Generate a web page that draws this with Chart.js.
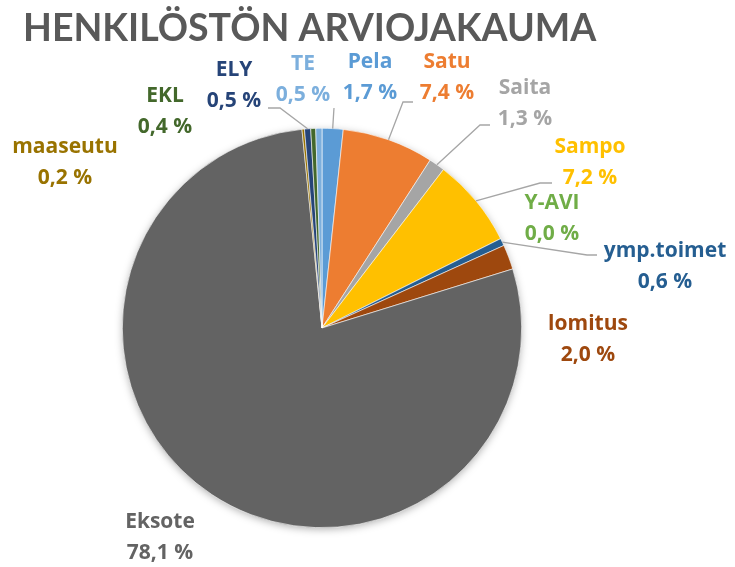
<!DOCTYPE html>
<html lang="fi">
<head>
  <meta charset="UTF-8">
  <title>Henkilöstön arviojakauma</title>
  <script src="https://cdn.jsdelivr.net/npm/chart.js"></script>
  <style>
    body { margin: 0; background: #fff; }
    #wrap { width: 735px; height: 567px; position: relative; }
  </style>
</head>
<body>
  <div id="wrap"><canvas id="pie"></canvas></div>

  <script>
    // data (clockwise from 12 o'clock, as in the original)
    const categories = ['Pela', 'Satu', 'Saita', 'Sampo', 'Y-AVI', 'ymp.toimet', 'lomitus', 'Eksote', 'maaseutu', 'ELY', 'EKL', 'TE'];
    const shares = [1.7, 7.4, 1.3, 7.2, 0.0, 0.6, 2.0, 78.1, 0.2, 0.5, 0.4, 0.5];
    const sliceColors = ['#5B9BD5', '#ED7D31', '#A5A5A5', '#FFC000', '#70AD47', '#255E91', '#9E480E', '#636363', '#997300', '#264478', '#43682B', '#7CAFDD'];
    const chartTitle = 'HENKILÖSTÖN ARVIOJAKAUMA';

    // label placement, offsets from pie centre (px)
    const labelOffsets = [[48,-251],[125,-251],[203,-225],[268,-166],[230,-110],[343,-62],[266,11],[-162,209],[-257,-166],[-88,-243],[-157,-217],[-19,-249]];
    // leader lines: [elbow, end] offsets from pie centre, null = no leader
    const leaders = [
      [[12,-220],[12,-220]], [[81,-226],[91,-226]], [[158,-203],[168,-203]], [[218,-145],[230,-145]],
      null, [[265,-73],[275,-73]], null, null, null, [[-42,-220],[-54,-220]], null, null
    ];

    const fmt = v => v.toFixed(1).replace('.', ',') + ' %';
    const labelFont = 'bold 21px "Open Sans", Lato, sans-serif';

    // soft shadow under the pie, like the Excel original
    const shadowPlugin = {
      id: 'pieShadow',
      beforeDatasetsDraw(chart) {
        const arc = chart.getDatasetMeta(0).data[0];
        if (!arc) return;
        const c = chart.ctx;
        c.save();
        c.shadowColor = 'rgba(0,0,0,0.35)';
        c.shadowBlur = 9;
        c.shadowOffsetY = 2;
        c.fillStyle = '#888';
        c.beginPath();
        c.arc(arc.x, arc.y, arc.outerRadius - 1, 0, Math.PI * 2);
        c.fill();
        c.restore();
      }
    };

    const labelPlugin = {
      id: 'outLabels',
      afterDatasetsDraw(chart) {
        const c = chart.ctx;
        const meta = chart.getDatasetMeta(0);
        c.save();
        // title
        c.fillStyle = '#595959';
        c.font = 'bold 37.5px Lato, "Open Sans", sans-serif';
        c.textAlign = 'left';
        c.textBaseline = 'alphabetic';
        c.fillText(chartTitle, 23, 41);

        meta.data.forEach((arc, i) => {
          const cx = arc.x, cy = arc.y;
          const ld = leaders[i];
          if (ld) {
            const mid = (arc.startAngle + arc.endAngle) / 2;
            c.strokeStyle = '#A6A6A6';
            c.lineWidth = 1.3;
            c.beginPath();
            c.moveTo(cx + Math.cos(mid) * arc.outerRadius, cy + Math.sin(mid) * arc.outerRadius);
            c.lineTo(cx + ld[0][0], cy + ld[0][1]);
            c.lineTo(cx + ld[1][0], cy + ld[1][1]);
            c.stroke();
          }
          const [dx, dy] = labelOffsets[i];
          c.fillStyle = sliceColors[i];
          c.font = labelFont;
          c.textAlign = 'center';
          c.textBaseline = 'middle';
          c.fillText(categories[i], cx + dx, cy + dy - 15);
          c.fillText(fmt(shares[i]), cx + dx, cy + dy + 16);
        });
        c.restore();
      }
    };

    new Chart(document.getElementById('pie'), {
      type: 'pie',
      data: {
        labels: categories,
        datasets: [{
          data: shares,
          backgroundColor: sliceColors,
          borderColor: '#ffffff',
          borderWidth: 0.6
        }]
      },
      options: {
        responsive: true,
        maintainAspectRatio: false,
        animation: false,
        layout: { padding: { left: 122, right: 213, top: 128, bottom: 39 } },
        plugins: {
          legend: { display: false },
          tooltip: { enabled: false }
        }
      },
      plugins: [shadowPlugin, labelPlugin]
    });
  </script>
</body>
</html>
